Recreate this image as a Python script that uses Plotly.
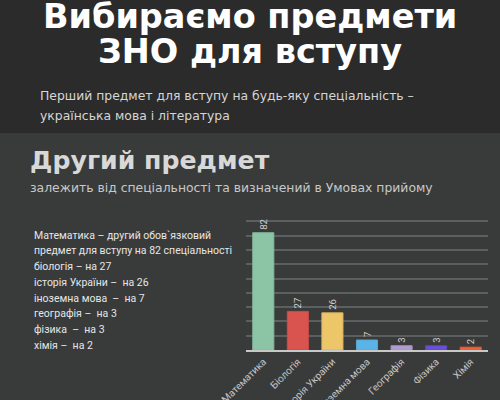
import plotly.graph_objects as go

categories = ["Математика", "Біологія", "Історія України", "Іноземна мова", "Географія", "Фізика", "Хімія"]
values = [82, 27, 26, 7, 3, 3, 2]
bar_colors = ["#8cc5a6", "#d9534f", "#eec66a", "#5ab4e5", "#b29bd1", "#6c4fd9", "#f2643a"]
edge_colors = ["#86b89c", "#c94c48", "#d9b25e", "#55a6d3", "#a48fc0", "#5f45c4", "#d95a34"]

title_lines = ["Вибираємо предмети", "ЗНО для вступу"]
subtitle_lines = ["Перший предмет для вступу на будь-яку спеціальність –",
                  "українська мова і література"]
section_title = "Другий предмет"
section_subtitle = "залежить від спеціальності та визначений в Умовах прийому"
note_lines = [
    "Математика – другий обов`язковий",
    "предмет для вступу на 82 спеціальності",
    "біологія – на 27",
    "історія України –  на 26",
    "іноземна мова  –  на 7",
    "географія –  на 3",
    "фізика  –  на 3",
    "хімія –  на 2",
]

W, H = 500, 400
L, R, T, B = 246, 12, 207, 50
PW, PH = W - L - R, H - T - B


def px(x):
    return (x - L) / PW


def py(y):
    return (H - B - y) / PH


fig = go.Figure()
fig.add_trace(go.Bar(
    x=categories, y=values,
    marker=dict(color=bar_colors, line=dict(color=edge_colors, width=1)),
    text=values, textposition="outside", textangle=-90,
    textfont=dict(family="Roboto", size=9.5, color="#d0d0d0"),
    cliponaxis=False, hoverinfo="skip",
))

annotations = []
title_y = [16.5, 51.5]
for t, yy in zip(title_lines, title_y):
    annotations.append(dict(text=f"<b>{t}</b>", x=px(250), y=py(yy), xref="paper", yref="paper",
                            xanchor="center", yanchor="middle", showarrow=False,
                            font=dict(family="DejaVu Sans", size=33.5, color="#ffffff")))
sub_y = [95.5, 115.5]
for t, yy in zip(subtitle_lines, sub_y):
    annotations.append(dict(text=t, x=px(38), y=py(yy), xref="paper", yref="paper",
                            xanchor="left", yanchor="middle", showarrow=False,
                            font=dict(family="DejaVu Sans", size=12.4, color="#d6d6d6")))
annotations.append(dict(text=f"<b>{section_title}</b>", x=px(28), y=py(160), xref="paper", yref="paper",
                        xanchor="left", yanchor="middle", showarrow=False,
                        font=dict(family="DejaVu Sans", size=25.2, color="#d8d8d8")))
annotations.append(dict(text=section_subtitle, x=px(28), y=py(187.5), xref="paper", yref="paper",
                        xanchor="left", yanchor="middle", showarrow=False,
                        font=dict(family="DejaVu Sans", size=12.4, color="#c8c8c8")))
for i, t in enumerate(note_lines):
    yy = 235 + i * 15.75
    annotations.append(dict(text=t, x=px(32), y=py(yy), xref="paper", yref="paper",
                            xanchor="left", yanchor="middle", showarrow=False,
                            font=dict(family="Roboto", size=10.5, color="#e6e6e6")))

shapes = [dict(type="rect", xref="paper", yref="paper", x0=px(-5), x1=px(505), y0=py(133), y1=py(-5),
               fillcolor="#2b2b2b", line=dict(width=0), layer="below")]

fig.update_layout(
    width=W, height=H,
    margin=dict(l=L, r=R, t=T, b=B, autoexpand=False),
    paper_bgcolor="#393b3b", plot_bgcolor="#393b3b",
    showlegend=False, bargap=0.39,
    annotations=annotations, shapes=shapes,
    xaxis=dict(tickangle=-45, tickfont=dict(family="Roboto", size=10, color="#c4c4c4"),
               showline=True, linecolor="#c8c8c8", linewidth=2, showgrid=False,
               ticks="", fixedrange=True, automargin=False),
    yaxis=dict(range=[0, 100], dtick=10, showticklabels=False, gridcolor="#5c5f5f", gridwidth=1.5,
               zeroline=False, showline=False, ticks="", fixedrange=True, automargin=False),
)

fig.write_html("out.html", config={"displayModeBar": False},
               post_script="document.body.style.margin='0';document.body.style.overflow='hidden';")
